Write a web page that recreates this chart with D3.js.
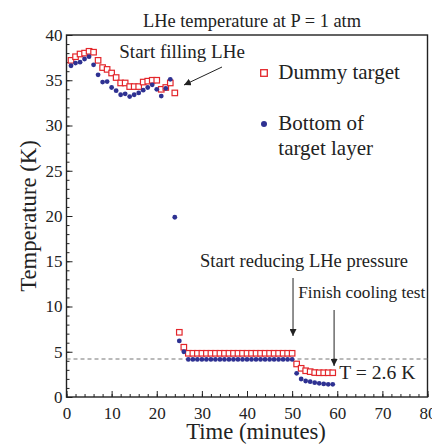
<!DOCTYPE html>
<html>
<head>
<meta charset="utf-8">
<script src="https://cdn.jsdelivr.net/npm/d3@7"></script>
<style>
  body { margin: 0; background: #fff; }
  text { font-family: "Liberation Serif", "Times New Roman", serif; fill: #222; }
</style>
</head>
<body>
<div id="chart"></div>
<script>
// time in minutes
const minutes = [1, 2, 3, 4, 5, 6, 7, 8, 9, 10, 11, 12, 13, 14, 15, 16, 17, 18, 19, 20,
  21, 22, 23, 24, 25, 26, 27, 28, 29, 30, 31, 32, 33, 34, 35, 36, 37, 38, 39, 40,
  41, 42, 43, 44, 45, 46, 47, 48, 49, 50, 51, 52, 53, 54, 55, 56, 57, 58, 59];

// Dummy target (open squares), K
const dummyTarget = [37.2, 37.6, 37.9, 38.0, 38.2, 38.1, 37.2, 36.4, 36.2, 35.8,
  35.3, 34.7, 34.7, 34.3, 34.3, 34.3, 34.8, 34.9, 35.0, 35.0,
  34.0, 34.2, 34.7, 33.6, 7.15, 5.5, 4.83, 4.83, 4.83, 4.83,
  4.83, 4.83, 4.83, 4.83, 4.83, 4.83, 4.83, 4.83, 4.83, 4.83,
  4.83, 4.83, 4.83, 4.83, 4.83, 4.83, 4.83, 4.83, 4.83, 4.83,
  3.65, 3.17, 2.9, 2.8, 2.7, 2.68, 2.68, 2.68, 2.68];

// Bottom of target layer (filled circles), K
const bottomLayer = [36.6, 36.9, 37.0, 37.35, 37.6, 36.7, 35.6, 34.8, 34.85, 34.2,
  33.85, 33.4, 33.5, 33.2, 33.4, 33.6, 33.9, 34.2, 34.5, 34.0,
  33.25, 34.1, 35.1, 19.86, 6.2, 5.0, 4.15, 4.15, 4.15, 4.15,
  4.15, 4.15, 4.15, 4.15, 4.15, 4.15, 4.15, 4.15, 4.15, 4.15,
  4.15, 4.15, 4.15, 4.15, 4.15, 4.15, 4.15, 4.15, 4.15, 4.15,
  2.62, 1.99, 1.77, 1.69, 1.58, 1.51, 1.44, 1.4, 1.4];

const xTicks = [0, 10, 20, 30, 40, 50, 60, 70, 80];
const yTicks = [0, 5, 10, 15, 20, 25, 30, 35, 40];
const lheLine = 4.2;

const width = 432, height = 444;
const plot = { left: 66.5, right: 427.5, top: 35, bottom: 397 };
const red = "#e3262b", blue = "#2e3192";

const svg = d3.select("#chart").append("svg")
    .attr("width", width)
    .attr("height", height);

const defs = svg.append("defs");
defs.append("marker")
    .attr("id", "head")
    .attr("viewBox", "0 0 10 10")
    .attr("refX", 10).attr("refY", 5)
    .attr("markerWidth", 7).attr("markerHeight", 7)
    .attr("markerUnits", "userSpaceOnUse")
    .attr("orient", "auto")
    .append("path")
    .attr("d", "M0,0 L10,5 L0,10 Z")
    .attr("fill", "#222");

var x = d3.scaleLinear().domain([0, 80]).range([plot.left, plot.right]);
var y = d3.scaleLinear().domain([0, 40]).range([plot.bottom, plot.top]);

// minor ticks
svg.append("g")
    .attr("transform", "translate(0," + plot.bottom + ")")
    .call(d3.axisBottom(x).ticks(40).tickSize(-3).tickFormat(""))
    .call(g => g.select(".domain").remove());
svg.append("g")
    .attr("transform", "translate(" + plot.left + ",0)")
    .call(d3.axisLeft(y).ticks(40).tickSize(-3).tickFormat(""))
    .call(g => g.select(".domain").remove());

// major ticks
var xAxis = svg.append("g")
    .attr("transform", "translate(0," + plot.bottom + ")")
    .call(d3.axisBottom(x).tickValues(xTicks).tickSize(-6).tickPadding(10));
xAxis.select(".domain").remove();
xAxis.selectAll("text")
    .style("font-family", "Liberation Serif")
    .attr("font-size", "17px");

var yAxis = svg.append("g")
    .attr("transform", "translate(" + plot.left + ",0)")
    .call(d3.axisLeft(y).tickValues(yTicks).tickSize(-6).tickPadding(4));
yAxis.select(".domain").remove();
yAxis.selectAll("text")
    .style("font-family", "Liberation Serif")
    .attr("font-size", "17px");

svg.selectAll(".tick line").attr("stroke", "#222").attr("stroke-width", 1);

// frame
svg.append("rect")
    .attr("x", plot.left).attr("y", plot.top)
    .attr("width", plot.right - plot.left)
    .attr("height", plot.bottom - plot.top)
    .attr("fill", "none")
    .attr("stroke", "#222")
    .attr("stroke-width", 1.4);

// LHe boiling line
svg.append("line")
    .attr("x1", x(0)).attr("x2", x(80))
    .attr("y1", y(lheLine)).attr("y2", y(lheLine))
    .attr("stroke", "#777")
    .attr("stroke-width", 1.2)
    .attr("stroke-dasharray", "4,3");

var sq = 5.5;
svg.append("g").selectAll("rect")
    .data(minutes.map((t, i) => [t, dummyTarget[i]]))
    .enter().append("rect")
    .attr("x", d => x(d[0]) - sq / 2)
    .attr("y", d => y(d[1]) - sq / 2)
    .attr("width", sq).attr("height", sq)
    .attr("fill", "#fff")
    .attr("stroke", red)
    .attr("stroke-width", 1.2);

svg.append("g").selectAll("circle")
    .data(minutes.map((t, i) => [t, bottomLayer[i]]))
    .enter().append("circle")
    .attr("cx", d => x(d[0]))
    .attr("cy", d => y(d[1]))
    .attr("r", 2.4)
    .attr("fill", blue);

// legend
svg.append("rect")
    .attr("x", 264 - 3.3).attr("y", 73 - 3.3)
    .attr("width", 6.6).attr("height", 6.6)
    .attr("fill", "#fff").attr("stroke", red).attr("stroke-width", 1.3);
svg.append("text").attr("x", 278.3).attr("y", 79.3)
    .attr("font-size", "21px").text("Dummy target");
svg.append("circle").attr("cx", 264).attr("cy", 124).attr("r", 3).attr("fill", blue);
svg.append("text").attr("x", 278.3).attr("y", 130)
    .attr("font-size", "21px").text("Bottom of");
svg.append("text").attr("x", 278.3).attr("y", 155)
    .attr("font-size", "21px").text("target layer");

// titles
svg.append("text")
    .attr("x", 252).attr("y", 26.7)
    .attr("text-anchor", "middle")
    .attr("font-size", "18.4px")
    .text("LHe temperature at P = 1 atm");

svg.append("text")
    .attr("x", 256).attr("y", 438.5)
    .attr("text-anchor", "middle")
    .attr("font-size", "22.7px")
    .text("Time (minutes)");

svg.append("text")
    .attr("transform", "translate(36," + (plot.top + plot.bottom) / 2 + ")rotate(-90)")
    .attr("text-anchor", "middle")
    .attr("font-size", "22.7px")
    .text("Temperature (K)");

// annotations
svg.append("text").attr("x", 119.3).attr("y", 58.3)
    .attr("font-size", "19px").text("Start filling LHe");
svg.append("line")
    .attr("x1", 222).attr("y1", 67).attr("x2", 184).attr("y2", 85)
    .attr("stroke", "#222").attr("stroke-width", 1)
    .attr("marker-end", "url(#head)");

svg.append("text").attr("x", 200).attr("y", 266.7)
    .attr("font-size", "18.5px").text("Start reducing LHe pressure");
svg.append("line")
    .attr("x1", x(50.2)).attr("y1", 278).attr("x2", x(50.2)).attr("y2", 336)
    .attr("stroke", "#222").attr("stroke-width", 1)
    .attr("marker-end", "url(#head)");

svg.append("text").attr("x", 298.3).attr("y", 298)
    .attr("font-size", "17.2px").text("Finish cooling test");
svg.append("line")
    .attr("x1", x(59.3)).attr("y1", 310).attr("x2", x(59.3)).attr("y2", 366)
    .attr("stroke", "#222").attr("stroke-width", 1)
    .attr("marker-end", "url(#head)");

svg.append("text").attr("x", 339.3).attr("y", 379)
    .attr("font-size", "19.6px").text("T = 2.6 K");
</script>
</body>
</html>
